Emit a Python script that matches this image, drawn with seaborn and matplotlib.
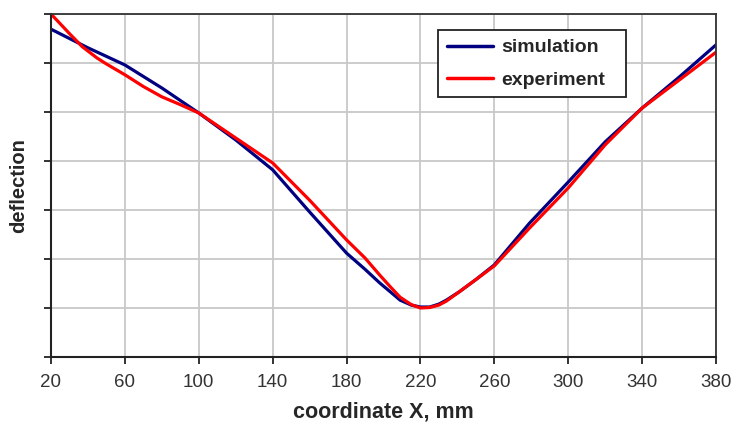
import numpy as np
import pandas as pd
import matplotlib
matplotlib.use("Agg")
import matplotlib.pyplot as plt
import seaborn as sns
from matplotlib.lines import Line2D

x_sim = [20, 40, 60, 80, 100, 120, 140, 160, 180, 190, 198, 204, 209, 215, 220, 225, 230, 234, 241, 250, 260, 279, 300, 320, 340, 360, 380]
y_sim = [6.69, 6.31, 5.96, 5.49, 4.98, 4.43, 3.82, 2.96, 2.12, 1.79, 1.51, 1.32, 1.16, 1.06, 1.02, 1.02, 1.08, 1.16, 1.33, 1.58, 1.88, 2.73, 3.57, 4.39, 5.08, 5.71, 6.37]
x_exp = [20, 30, 37, 45, 50, 60, 70, 80, 90, 100, 120, 140, 160, 180, 190, 198, 204, 209, 215, 220, 225, 230, 234, 241, 250, 260, 279, 300, 320, 340, 360, 380]
y_exp = [7.0, 6.60, 6.33, 6.10, 5.98, 5.76, 5.52, 5.31, 5.15, 4.98, 4.47, 3.96, 3.20, 2.39, 2.02, 1.67, 1.42, 1.22, 1.07, 1.0, 1.01, 1.06, 1.14, 1.33, 1.58, 1.86, 2.63, 3.45, 4.33, 5.08, 5.65, 6.22]
series_names = ["simulation", "experiment"]
x_ticks = [20, 60, 100, 140, 180, 220, 260, 300, 340, 380]

df = pd.concat([
    pd.DataFrame({"x": x_sim, "y": y_sim, "series": series_names[0]}),
    pd.DataFrame({"x": x_exp, "y": y_exp, "series": series_names[1]}),
], ignore_index=True)

sns.set_style("white")
plt.rcParams['font.family'] = ['Liberation Sans', 'DejaVu Sans']

fig = plt.figure(figsize=(7.36, 4.34), dpi=100)
ax = fig.add_axes([51/736, 77/434, 665/736, 343/434])

sns.lineplot(data=df, x="x", y="y", hue="series", sort=False,
             palette={"simulation": "#000080", "experiment": "#ff0000"},
             linewidth=2.3, ax=ax, legend=False)

ax.set_xlim(20, 380)
ax.set_ylim(0, 7)
ax.set_xticks(x_ticks)
ax.set_xticklabels([str(t) for t in x_ticks], fontsize=13.5, color="#333333")
ax.set_yticks(range(0, 8))
ax.set_yticklabels([])
ax.grid(True, color="#c8c8c8", linewidth=1.3)
ax.set_axisbelow(True)
ax.tick_params(axis="both", direction="out", length=5, width=1.3, colors="#222222",
               bottom=True, left=True)
ax.tick_params(axis="x", pad=7, labelcolor="#333333")
for s in ["left", "bottom"]:
    ax.spines[s].set_color("#222222")
    ax.spines[s].set_linewidth(1.5)
for s in ["top", "right"]:
    ax.spines[s].set_color("#333333")
    ax.spines[s].set_linewidth(1.3)

ax.set_xlabel("coordinate X, mm", fontsize=15.5, fontweight="bold", labelpad=8)
ax.set_ylabel("deflection", fontsize=14.5, fontweight="bold", labelpad=8)

handles = [Line2D([], [], color="#000080", linewidth=2.5),
           Line2D([], [], color="#ff0000", linewidth=2.5)]
leg = ax.legend(handles, series_names, loc="upper left",
                bbox_to_anchor=(0.582, 0.953 - 0.2, 0.283, 0.2), mode="expand",
                borderaxespad=0, frameon=True, fancybox=False, framealpha=1,
                edgecolor="#222222", prop={"weight": "bold", "size": 14},
                handlelength=2.4, labelspacing=0.75, borderpad=0.45, handletextpad=0.4)
leg.get_frame().set_linewidth(1.3)

fig.savefig("out.png", dpi=100, facecolor="white")
